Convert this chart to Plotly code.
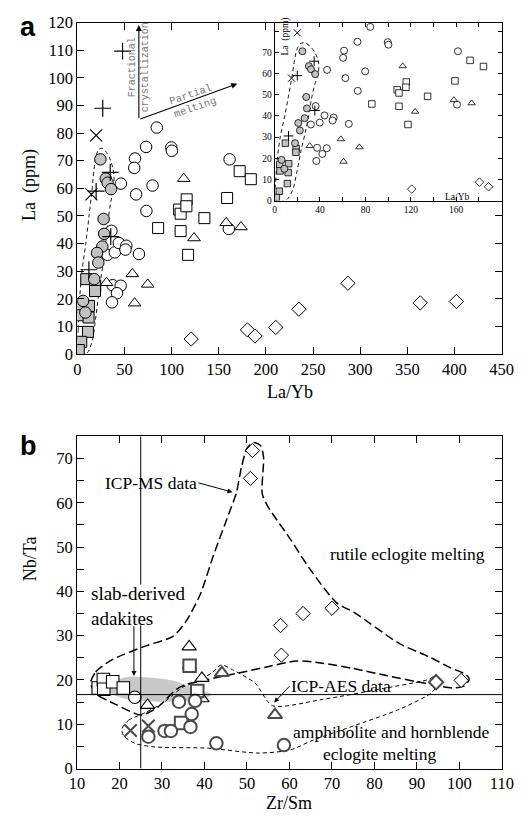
import plotly.graph_objects as go

W, H = 530, 833
SERIF = "Liberation Serif"

# ---------------- Panel a: La vs La/Yb ----------------
gray_circ_x = [24.5, 30.2, 32.1, 35.8, 27.9, 28.5, 26.5, 20.9, 22.3, 18.0, 6.2, 8.6]
gray_circ_y = [70.5, 63.5, 62.0, 59.7, 48.9, 43.5, 38.9, 36.6, 33.1, 27.1, 19.2, 15.0]

gray_sq_x = [9.5, 19.0, 18.8, 4.5, 12.4, 4.8, 12.0, 11.3, 4.2, 1.6]
gray_sq_y = [27.1, 24.6, 22.8, 17.0, 17.4, 14.0, 13.2, 8.0, 4.4, 1.4]

white_circ_x = [84.3, 73.0, 99.7, 100.3, 61.2, 60.4, 46.3, 62.4, 79.8, 73.3, 36.2,
                32.0, 39.8, 44.0, 52.0, 51.1, 65.4, 37.5, 46.0, 42.1, 36.8, 161.5, 160.7]
white_circ_y = [82.0, 75.0, 74.8, 73.6, 70.8, 67.4, 61.7, 57.8, 61.0, 51.8, 44.6,
                35.9, 36.8, 40.2, 39.2, 37.8, 36.2, 24.9, 24.7, 22.0, 18.7, 70.5, 45.3]

white_sq_x = [85.7, 108.0, 109.6, 116.0, 115.7, 109.6, 117.5, 134.8, 158.9, 172.2, 184.0]
white_sq_y = [45.6, 52.3, 50.8, 56.0, 53.5, 44.5, 35.9, 49.2, 56.5, 66.2, 63.3]

tri_x = [112.9, 123.8, 157.9, 173.6, 31.0, 58.4, 60.8, 74.7]
tri_y = [63.5, 42.0, 47.5, 46.0, 25.8, 29.0, 18.4, 25.2]

dia_x = [120.8, 180.5, 188.5, 210.5, 235.0, 287.0, 363.6, 402.0]
dia_y = [5.4, 8.7, 6.5, 9.6, 16.2, 25.6, 18.5, 19.0]

plus_x = [48.0, 27.0, 34.9, 20.0, 35.5, 12.3]
plus_y = [109.7, 89.0, 65.8, 59.0, 42.5, 30.5]

cross_x = [20.0, 15.0]
cross_y = [79.2, 57.8]

# dashed field around the grey symbols (La/Yb, La)
env_a_x = [0.5, 1.0, 2.5, 5.0, 9.0, 12.5, 15.5, 17.5, 19.5, 22.5, 26.5, 31.0, 35.5,
           38.8, 38.5, 35.5, 32.5, 30.0, 27.0, 23.5, 19.5, 16.0, 11.0, 5.0, 0.5]
env_a_y = [0.0, 9.0, 20.0, 30.0, 40.0, 50.0, 59.0, 66.0, 71.0, 74.0, 74.5, 73.0, 70.0,
           65.0, 60.0, 55.0, 48.0, 40.0, 32.0, 24.0, 13.0, 5.0, 0.5, -0.5, 0.0]

main_x_ticks = [0, 50, 100, 150, 200, 250, 300, 350, 400, 450]
main_y_ticks = [0, 10, 20, 30, 40, 50, 60, 70, 80, 90, 100, 110, 120]
inset_x_ticks = [0, 20, 40, 60, 80, 100, 120, 140, 160, 180, 200]
inset_x_text = ["0", "", "40", "", "80", "", "120", "", "160", "", ""]
inset_y_ticks = [0, 10, 20, 30, 40, 50, 60, 70, 80]
inset_y_text = ["0", "10", "20", "30", "40", "50", "60", "70", ""]

# ---------------- Panel b: Nb/Ta vs Zr/Sm ----------------
b_sq_x = [15.0, 16.2, 16.3, 18.4, 20.9]
b_sq_y = [18.2, 20.1, 17.9, 19.6, 18.2]
b_sq_dark_x = [36.5, 38.3, 34.5]
b_sq_dark_y = [23.2, 17.5, 10.3]
b_tri_x = [26.6, 36.4, 36.5, 39.4, 39.4]
b_tri_y = [14.3, 27.5, 23.3, 20.4, 15.8]
b_tri_dark_x = [44.1, 56.6]
b_tri_dark_y = [21.6, 12.1]
b_circ_x = [23.6]
b_circ_y = [16.1]
b_circ_dark_x = [34.0, 37.8, 37.0, 36.7, 30.6, 32.1, 26.8, 42.8, 58.7]
b_circ_dark_y = [15.1, 15.3, 12.3, 9.4, 8.5, 8.5, 7.2, 5.7, 5.3]
b_cross_x = [22.6, 26.8]
b_cross_y = [8.6, 9.6]
b_dia_x = [51.3, 50.8, 57.9, 63.2, 70.0, 58.1, 100.4]
b_dia_y = [71.8, 65.5, 32.3, 35.0, 36.2, 25.6, 19.9]
b_dia_dark_x = [94.5]
b_dia_dark_y = [19.5]

chondrite_nbta = 16.7
adakite_zrsm = 25.0

# slab-derived adakite field (grey)
adakite_x = [17.5, 19.0, 22.1, 26.0, 30.4, 33.5, 35.7, 38.5, 41.7, 40.0, 37.2, 33.0,
             29.6, 25.0, 22.1, 19.5, 18.0, 17.5]
adakite_y = [18.3, 19.8, 20.7, 20.6, 20.2, 19.6, 18.8, 17.8, 16.7, 15.8, 15.3, 15.2,
             15.1, 15.3, 15.6, 16.3, 17.0, 18.3]

# ICP-MS field (long dash)
icpms_x = [13.2, 14.4, 18.3, 26.2, 32.5, 35.5, 39.0, 42.1, 45.8, 47.5, 48.7, 50.0,
           51.5, 53.2, 53.9, 53.6, 54.9, 60.2, 64.7, 71.1, 75.3, 85.9, 92.7, 98.0,
           101.6, 102.3, 101.0, 98.3, 90.0, 82.8, 75.0, 67.7, 61.7, 54.9, 49.2, 44.0,
           38.5, 35.7, 33.4, 28.9, 25.1, 19.1, 14.4, 13.2]
icpms_y = [19.3, 21.8, 24.6, 27.7, 29.8, 33.0, 39.3, 48.1, 57.7, 62.2, 68.0, 72.3,
           73.6, 72.9, 70.3, 62.0, 59.2, 51.8, 45.2, 37.4, 35.2, 28.2, 25.3, 22.7,
           21.2, 20.1, 18.6, 18.2, 19.6, 21.0, 22.6, 23.8, 24.3, 23.0, 21.8, 20.8,
           19.6, 19.0, 17.9, 13.8, 12.1, 14.5, 16.9, 19.3]

# ICP-AES field (short dash)
icpaes_x = [20.6, 22.1, 26.0, 30.5, 34.9, 37.2, 41.7, 44.0, 46.6, 51.9, 56.0, 67.7,
            82.8, 92.7, 94.1, 95.3, 93.4, 85.9, 75.3, 65.5, 60.2, 52.6, 40.9, 28.1,
            23.6, 20.9, 20.6]
icpaes_y = [9.0, 10.9, 12.6, 15.0, 18.4, 19.2, 21.6, 23.4, 22.3, 19.3, 14.2, 15.6,
            18.2, 20.1, 20.8, 19.7, 17.1, 13.4, 9.7, 6.4, 4.2, 3.5, 4.6, 4.9,
            5.7, 7.5, 9.0]

b_x_ticks = [10, 20, 30, 40, 50, 60, 70, 80, 90, 100, 110]
b_y_ticks = [0, 5, 10, 15, 20, 25, 30, 35, 40, 45, 50, 55, 60, 65, 70, 75]
b_y_text = [str(v) if v % 10 == 0 and v < 75 else "" for v in b_y_ticks]


def px_x(p):
    return p / W


def px_y(p):
    return 1 - p / H


GRAY_FILL = "#c2c2c2"
DARK = "#4a4a4a"

fig = go.Figure()


def add_pts(x, y, symbol, xa, ya, size, fill="white", lc="black", lw=1.0):
    fig.add_trace(go.Scatter(
        x=x, y=y, mode="markers", xaxis=xa, yaxis=ya, showlegend=False,
        hoverinfo="skip",
        marker=dict(symbol=symbol, size=size, color=fill,
                    line=dict(color=lc, width=lw))))


# Panel a main plot and its inset share the same samples
for xa, ya, s, lw, sx in [("x", "y", 11.5, 1.0, 12), ("x2", "y2", 7, 0.8, 7)]:
    fig.add_trace(go.Scatter(x=env_a_x, y=env_a_y, mode="lines", xaxis=xa, yaxis=ya,
                             line=dict(color="black", width=0.9, dash="4px,3px",
                                       shape="spline", smoothing=0.8),
                             showlegend=False, hoverinfo="skip"))
    add_pts(white_circ_x, white_circ_y, "circle", xa, ya, s, lw=lw)
    add_pts(white_sq_x, white_sq_y, "square", xa, ya, s - 0.5, lw=lw)
    add_pts(tri_x, tri_y, "triangle-up", xa, ya, s - 0.5, lw=lw)
    add_pts(dia_x, dia_y, "diamond", xa, ya, s - 0.5, lw=lw)
    add_pts(gray_sq_x, gray_sq_y, "square", xa, ya, s - 0.5, fill=GRAY_FILL, lw=lw)
    add_pts(gray_circ_x, gray_circ_y, "circle", xa, ya, s, fill=GRAY_FILL, lw=lw)
    add_pts(plus_x, plus_y, "cross-thin", xa, ya, sx, lw=lw + 0.2)
    add_pts(cross_x, cross_y, "x-thin", xa, ya, sx, lw=lw + 0.2)

# helper traces so that the tick-only overlay axes get drawn
fig.add_trace(go.Scatter(x=[None], y=[None], xaxis="x3", yaxis="y", showlegend=False))
fig.add_trace(go.Scatter(x=[None], y=[None], xaxis="x", yaxis="y3", showlegend=False))

# Panel b
fig.add_trace(go.Scatter(x=adakite_x, y=adakite_y, mode="lines", fill="toself",
                         fillcolor="#c8c8c8", line=dict(width=0, shape="spline"),
                         xaxis="x4", yaxis="y4", showlegend=False, hoverinfo="skip"))
fig.add_trace(go.Scatter(x=icpms_x, y=icpms_y, mode="lines", xaxis="x4", yaxis="y4",
                         line=dict(color="black", width=1.5, dash="9px,4px",
                                   shape="spline", smoothing=0.7),
                         showlegend=False, hoverinfo="skip"))
fig.add_trace(go.Scatter(x=icpaes_x, y=icpaes_y, mode="lines", xaxis="x4", yaxis="y4",
                         line=dict(color="black", width=1.0, dash="4px,3px",
                                   shape="spline", smoothing=0.7),
                         showlegend=False, hoverinfo="skip"))

bs = 12.5
add_pts(b_sq_x, b_sq_y, "square", "x4", "y4", bs, lw=1.1)
add_pts(b_circ_x, b_circ_y, "circle", "x4", "y4", bs, lw=1.1)
add_pts(b_tri_x, b_tri_y, "triangle-up", "x4", "y4", bs, lw=1.1)
add_pts(b_dia_x, b_dia_y, "diamond", "x4", "y4", 11, lw=1.0)
add_pts(b_sq_dark_x, b_sq_dark_y, "square", "x4", "y4", bs, lc=DARK, lw=2.0)
add_pts(b_circ_dark_x, b_circ_dark_y, "circle", "x4", "y4", bs, lc=DARK, lw=2.0)
add_pts(b_tri_dark_x, b_tri_dark_y, "triangle-up", "x4", "y4", bs, lc=DARK, lw=2.0)
add_pts(b_dia_dark_x, b_dia_dark_y, "diamond", "x4", "y4", 11, lc=DARK, lw=2.0)
add_pts(b_cross_x, b_cross_y, "x-thin", "x4", "y4", bs, lc=DARK, lw=2.0)

tickfont = dict(family=SERIF, size=16.5, color="black")
small_font = dict(family=SERIF, size=9.5, color="black")
axis_common = dict(showgrid=False, zeroline=False, showline=True, linecolor="black",
                   linewidth=1, ticks="inside", tickcolor="black", ticklen=7,
                   tickwidth=1, tickfont=tickfont)

a_xdom = [px_x(72), px_x(513)]
a_ydom = [px_y(353), px_y(14)]
in_xdom = [px_x(277), px_x(513)]
in_ydom = [px_y(196), px_y(14)]
b_xdom = [px_x(71.7), px_x(513.3)]
b_ydom = [px_y(777.3), px_y(437.3)]

fig.update_layout(
    width=W, height=H, autosize=False, margin=dict(l=0, r=0, t=0, b=0, pad=0),
    paper_bgcolor="white", plot_bgcolor="rgba(0,0,0,0)",
    font=dict(family=SERIF, color="black"),
    xaxis=dict(axis_common, domain=a_xdom, anchor="y", range=[0, 450],
               tickvals=main_x_ticks, mirror=True),
    yaxis=dict(axis_common, domain=a_ydom, anchor="x", range=[0, 120],
               tickvals=main_y_ticks, mirror=True),
    xaxis3=dict(overlaying="x", side="top", anchor="y", range=[0, 450],
                tickvals=[0, 50, 100, 150, 200], ticks="inside", ticklen=7,
                tickcolor="black", showticklabels=False, showline=False,
                showgrid=False, zeroline=False),
    yaxis3=dict(overlaying="y", side="right", anchor="x", range=[0, 120],
                tickvals=[10, 20, 30, 40, 50], ticks="inside", ticklen=7,
                tickcolor="black", showticklabels=False, showline=False,
                showgrid=False, zeroline=False),
    xaxis2=dict(axis_common, domain=in_xdom, anchor="y2", range=[0, 200],
                tickvals=inset_x_ticks, ticktext=inset_x_text, ticklen=4,
                mirror="ticks", tickfont=small_font),
    yaxis2=dict(axis_common, domain=in_ydom, anchor="x2", range=[0, 84],
                tickvals=inset_y_ticks, ticktext=inset_y_text, ticklen=4,
                mirror="ticks", tickfont=small_font),
    xaxis4=dict(axis_common, domain=b_xdom, anchor="y4", range=[10, 110],
                tickvals=b_x_ticks, mirror="ticks"),
    yaxis4=dict(axis_common, domain=b_ydom, anchor="x4", range=[0, 75],
                tickvals=b_y_ticks, ticktext=b_y_text, mirror="ticks"),
)

# reference lines in panel b (the vertical one leaves room for its label)
fig.add_shape(type="line", xref="x4", yref="y4", x0=10, x1=110,
              y0=chondrite_nbta, y1=chondrite_nbta, line=dict(color="black", width=1))
fig.add_shape(type="line", xref="x4", yref="y4", x0=adakite_zrsm, x1=adakite_zrsm,
              y0=0, y1=32.3, line=dict(color="black", width=1))
fig.add_shape(type="line", xref="x4", yref="y4", x0=adakite_zrsm, x1=adakite_zrsm,
              y0=41.5, y1=75, line=dict(color="black", width=1))

BLACK = "black"
CENTER = dict(xanchor="center", yanchor="middle", showarrow=False,
              xref="paper", yref="paper")
ann = []
# panel letters
ann.append(dict(CENTER, text="<b>a</b>", x=px_x(21), y=px_y(18),
                font=dict(family="Liberation Sans", size=27, color=BLACK)))
ann.append(dict(CENTER, text="<b>b</b>", x=px_x(21), y=px_y(447),
                font=dict(family="Liberation Sans", size=27, color=BLACK)))
# axis titles
ann.append(dict(CENTER, text="La  (ppm)", x=px_x(23), y=px_y(180), textangle=-90,
                font=dict(family=SERIF, size=18, color=BLACK)))
ann.append(dict(CENTER, text="La/Yb", x=px_x(293), y=px_y(392),
                font=dict(family=SERIF, size=18, color=BLACK)))
ann.append(dict(CENTER, text="Nb/Ta", x=px_x(23), y=px_y(563), textangle=-90,
                font=dict(family=SERIF, size=18, color=BLACK)))
ann.append(dict(CENTER, text="Zr/Sm", x=px_x(292), y=px_y(813),
                font=dict(family=SERIF, size=18, color=BLACK)))
# inset titles
ann.append(dict(CENTER, text="La  (ppm)", x=px_x(288), y=px_y(28), textangle=-90,
                font=dict(family=SERIF, size=9.5, color=BLACK)))
ann.append(dict(CENTER, text="La/Yb", x=px_x(467), y=px_y(192),
                font=dict(family=SERIF, size=9.5, color=BLACK)))

# trend arrows in panel a
ann.append(dict(x=65.3, y=119.2, ax=65.3, ay=84.9, xref="x", yref="y", axref="x", ayref="y",
                showarrow=True, arrowhead=2, arrowsize=1.1, arrowwidth=1.1,
                arrowcolor=BLACK, text=""))
ann.append(dict(x=169.7, y=97.9, ax=65.3, ay=84.9, xref="x", yref="y", axref="x", ayref="y",
                showarrow=True, arrowhead=2, arrowsize=1.1, arrowwidth=1.1,
                arrowcolor=BLACK, text=""))
ann.append(dict(text="Fractional<br>crystallization", x=64.8, y=104.0, xref="x", yref="y",
                xanchor="center", yanchor="middle", textangle=-90, showarrow=False,
                font=dict(family="Liberation Mono", size=10, color="#777777")))
ann.append(dict(text="Partial<br>melting", x=123.0, y=91.5, xref="x", yref="y",
                xanchor="center", yanchor="middle", textangle=-19, showarrow=False,
                font=dict(family="Liberation Mono", size=10.5, color="#777777")))

# panel b labels
bfont = dict(family=SERIF, size=17.5, color=BLACK)
ann.append(dict(text="ICP-MS data", x=46.6, y=62.4, ax=38.6, ay=64.5,
                xref="x4", yref="y4", axref="x4", ayref="y4", showarrow=True,
                arrowhead=2, arrowsize=1, arrowwidth=1, arrowcolor=BLACK,
                xanchor="right", font=bfont))
ann.append(dict(text="", x=23.4, y=20.9, ax=23.4, ay=32.5,
                xref="x4", yref="y4", axref="x4", ayref="y4", showarrow=True,
                arrowhead=2, arrowsize=1, arrowwidth=1, arrowcolor=BLACK))
ann.append(dict(text="slab-derived<br>adakites", x=12.9, y=36.8, xref="x4", yref="y4",
                xanchor="left", yanchor="middle", align="left", showarrow=False,
                font=dict(family=SERIF, size=19, color=BLACK)))
ann.append(dict(text="rutile eclogite melting", x=87.7, y=48.5, xref="x4", yref="y4",
                xanchor="center", yanchor="middle", showarrow=False, font=bfont))
ann.append(dict(text="ICP-AES data", x=56.4, y=14.9, ax=60.0, ay=18.6,
                xref="x4", yref="y4", axref="x4", ayref="y4", showarrow=True,
                arrowhead=2, arrowsize=1, arrowwidth=1, arrowcolor=BLACK,
                xanchor="left", font=bfont))
ann.append(dict(text="amphibolite and hornblende", x=83.9, y=8.3, xref="x4", yref="y4",
                xanchor="center", yanchor="middle", showarrow=False, font=bfont))
ann.append(dict(text="eclogite melting", x=81.3, y=3.4, xref="x4", yref="y4",
                xanchor="center", yanchor="middle", showarrow=False, font=bfont))

fig.update_layout(annotations=ann)
fig.write_html("out.html")
